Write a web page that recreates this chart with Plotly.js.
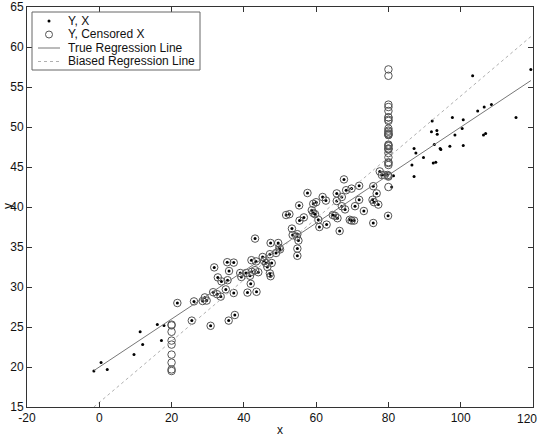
<!DOCTYPE html>
<html>
<head>
<meta charset="utf-8">
<script src="https://cdn.plot.ly/plotly-3.0.1.min.js"></script>
<style>html,body{margin:0;padding:0;background:#fff;}#chart{width:540px;height:436px;}</style>
</head>
<body>
<div id="chart"></div>
<script>
// Observed (true) X values and Y values
const xObs = [
  -1.5, 0.5, 2.2, 9.6, 12.0, 11.3, 16.05, 17.2, 17.9,
  21.6, 25.6, 26.2, 28.6, 29.2, 29.7, 30.8, 31.5, 31.8, 32.6,
  32.8, 33.6, 33.8, 35.0, 35.5, 35.4, 35.9, 35.8, 37.2, 37.2,
  37.5, 39.0, 39.3, 40.6, 41.0, 41.7, 41.9, 42.2, 42.1, 43.4,
  43.5, 43.1, 43.1, 44.0, 45.2, 45.6, 46.1, 46.5, 47.2, 47.4,
  47.7, 47.2, 47.4, 48.9, 49.5, 49.8, 50.0, 51.7, 52.6, 53.3,
  53.5, 54.6, 54.8, 55.1, 54.8, 54.8, 55.3, 55.4, 56.6, 57.6,
  58.8, 59.2, 59.7, 59.2, 60.0, 60.6, 60.9, 61.8, 62.7, 62.9,
  65.7, 65.7, 67.1, 64.6, 65.2, 65.9, 66.5, 67.1, 68.0, 67.7,
  68.3, 69.8, 69.3, 69.8, 70.5, 70.75, 71.9, 71.9, 73.2, 75.8,
  75.6, 76.0, 76.75, 75.8, 77.2, 77.6, 78.2, 78.9, 79.9, 79.8,
  80.9, 81.4, 103.3, 119.4, 104.7, 106.5, 108.5, 97.7, 100.7, 100.4,
  92.1, 91.9, 93.4, 93.5, 98.4, 115.3, 106.3, 106.9, 92.7, 94.3,
  94.5, 97.0, 100.7, 87.1, 87.6, 89.7, 86.5, 92.4, 93.1, 87.1
];
const yObs = [
  19.5, 20.55, 19.7, 21.55, 22.8, 24.4, 25.3, 23.3, 25.2,
  28.0, 25.8, 28.2, 28.25, 28.7, 28.3, 25.15, 29.35, 32.45, 29.1,
  31.2, 28.8, 30.7, 29.7, 30.85, 33.1, 32.0, 25.8, 33.05, 29.25,
  26.5, 31.75, 31.25, 31.75, 29.3, 31.4, 30.4, 31.9, 33.35, 33.2,
  29.4, 36.05, 32.1, 31.85, 33.75, 33.25, 33.0, 32.5, 31.7, 31.35,
  33.0, 34.1, 35.5, 34.25, 35.5, 34.9, 34.7, 39.0, 39.1, 37.3,
  36.5, 36.3, 36.6, 35.8, 34.8, 33.9, 40.2, 38.3, 38.7, 41.75,
  39.6, 39.25, 39.1, 40.4, 40.6, 38.4, 37.5, 41.25, 40.8, 37.8,
  41.7, 40.75, 41.25, 39.0, 38.9, 38.6, 37.0, 40.1, 39.7, 43.45,
  42.1, 42.3, 38.4, 38.3, 38.3, 40.1, 40.9, 42.65, 39.5, 38.0,
  40.9, 40.6, 41.7, 42.6, 40.3, 44.45, 44.0, 44.0, 38.9, 44.0,
  42.5, 43.9, 56.4, 57.2, 52.0, 52.5, 52.8, 51.2, 50.9, 49.8,
  50.75, 49.4, 49.55, 49.1, 49.0, 51.2, 49.0, 49.2, 47.8, 47.3,
  47.2, 47.6, 47.7, 47.3, 46.75, 46.2, 45.25, 45.5, 45.6, 43.8
];
// Censoring limits for X
const censorLow = 20;
const censorHigh = 80;
// Regression line end points
const lineX = [-1.5, 119.4];
const trueLineY = [19.55, 55.8];
const biasedLineY = [15.0, 61.3];
// Axis ticks (the last x label is placed separately so it stays inside the page)
const xTicks = [-20, 0, 20, 40, 60, 80, 100, 120];
const xTickText = ["-20", "0", "20", "40", "60", "80", "100", ""];
const lastXLabel = "120";
const yTicks = [15, 20, 25, 30, 35, 40, 45, 50, 55, 60, 65];
// Legend labels
const legendNames = ["Y, X", "Y, Censored X", "True Regression Line", "Biased Regression Line"];

const xCens = xObs.map(v => Math.min(Math.max(v, censorLow), censorHigh));

const FF = "Liberation Sans, Arial, sans-serif";
const font = {family: FF, size: 12, color: "#111"};
const dotColor = "#000", circColor = "#555", trueColor = "#777", biasColor = "#b0b0b0";

const traces = [
  {x: xObs, y: yObs, type: "scatter", mode: "markers", name: legendNames[0],
   marker: {color: dotColor, size: 3, symbol: "circle"}},
  {x: xCens, y: yObs, type: "scatter", mode: "markers", name: legendNames[1],
   marker: {symbol: "circle-open", size: 7.5, color: circColor, line: {width: 1, color: circColor}}},
  {x: lineX, y: trueLineY, type: "scatter", mode: "lines", name: legendNames[2],
   line: {color: trueColor, width: 1}},
  {x: lineX, y: biasedLineY, type: "scatter", mode: "lines", name: legendNames[3],
   line: {color: biasColor, width: 1, dash: "dot"}}
];

// Plot area geometry in pixels
const W = 540, H = 436, mL = 27, mR = 7, mT = 7, mB = 29;
const pw = W - mL - mR, ph = H - mT - mB;
const px = p => (p - mL) / pw;
const py = p => (H - mB - p) / ph;

// Manual legend (tight row spacing like the original)
const lgLeft = 32, lgRight = 200, lgTop = 12, lgBottom = 70;
const rowY = [21, 34.5, 48, 61.5];
const symX = 49, lineX0 = 38, lineX1 = 60, textX = 66;

const shapes = [
  {type: "rect", xref: "paper", yref: "paper", x0: px(lgLeft), x1: px(lgRight), y0: py(lgBottom), y1: py(lgTop),
   line: {color: "#666", width: 1}, fillcolor: "#fff", layer: "above"},
  {type: "circle", xref: "paper", yref: "paper", xsizemode: "pixel", ysizemode: "pixel",
   xanchor: px(symX), yanchor: py(rowY[0]), x0: -1.5, x1: 1.5, y0: -1.5, y1: 1.5,
   fillcolor: dotColor, line: {width: 0}, layer: "above"},
  {type: "circle", xref: "paper", yref: "paper", xsizemode: "pixel", ysizemode: "pixel",
   xanchor: px(symX), yanchor: py(rowY[1]), x0: -3.5, x1: 3.5, y0: -3.5, y1: 3.5,
   fillcolor: "rgba(0,0,0,0)", line: {width: 1, color: circColor}, layer: "above"},
  {type: "line", xref: "paper", yref: "paper", x0: px(lineX0), x1: px(lineX1), y0: py(rowY[2]), y1: py(rowY[2]),
   line: {color: trueColor, width: 1}, layer: "above"},
  {type: "line", xref: "paper", yref: "paper", x0: px(lineX0), x1: px(lineX1), y0: py(rowY[3]), y1: py(rowY[3]),
   line: {color: biasColor, width: 1, dash: "dot"}, layer: "above"}
];

const annotations = legendNames.map((t, i) => ({
  text: t, xref: "paper", yref: "paper", x: px(textX), y: py(rowY[i]),
  xanchor: "left", yanchor: "middle", showarrow: false, font: font
}));
annotations.push({text: "x", xref: "paper", yref: "paper", x: px(280), y: py(430),
  xanchor: "center", yanchor: "middle", showarrow: false, font: font});
annotations.push({text: "y", xref: "paper", yref: "paper", x: px(8), y: py(206),
  xanchor: "center", yanchor: "middle", showarrow: false, font: font, textangle: -90});
annotations.push({text: lastXLabel, xref: "paper", yref: "paper", x: px(539), y: py(419),
  xanchor: "right", yanchor: "middle", showarrow: false, font: font});

const axisCommon = {
  showgrid: false, zeroline: false, showline: true, linecolor: "#333", linewidth: 1,
  mirror: "ticks", ticks: "inside", ticklen: 5, tickcolor: "#333", tickfont: font
};

const layout = {
  width: W, height: H,
  margin: {l: mL, r: mR, t: mT, b: mB},
  paper_bgcolor: "#fff", plot_bgcolor: "#fff",
  font: font,
  showlegend: false,
  shapes: shapes,
  annotations: annotations,
  xaxis: Object.assign({}, axisCommon, {range: [-20, 120], tickvals: xTicks, ticktext: xTickText}),
  yaxis: Object.assign({}, axisCommon, {range: [15, 65], tickvals: yTicks, ticklabelstandoff: 0})
};

Plotly.newPlot("chart", traces, layout, {displayModeBar: false, staticPlot: true});
</script>
</body>
</html>
